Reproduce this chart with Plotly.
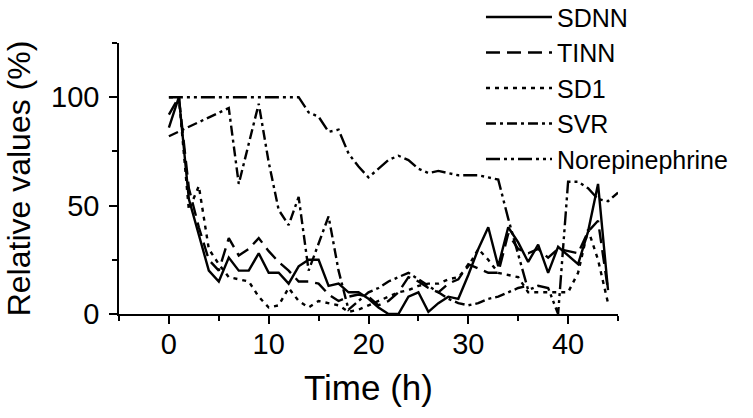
import plotly.graph_objects as go

hours = list(range(0, 46))

sdnn = [86, 100, 53, 36, 20, 15, 26, 20, 20, 28, 19, 19, 14, 22, 25, 25, 13, 14, 10, 10,
        7, 3, 0, 0, 8, 10, 1, 5, 8, 7, 18, 30, 40, 22, 40, 33, 24, 32, 19, 31,
        27, 23, 38, 60, 11, None]
tinn = [92, 100, 58, 40, 25, 20, 35, 27, 30, 35, 29, 24, 20, 15, 15, 14, 9, 6, 8, 9,
        8, 4, 6, 10, 17, 15, 12, 10, 14, 16, 23, 21, 19, 19, 37, 30, 28, 30, 26, 30,
        29, 28, 38, 43, 11, None]
sd1 = [100, 100, 48, 59, 30, 23, 17, 16, 15, 8, 3, 4, 12, 6, 3, 6, 5, 4, 1, 2,
       4, 6, 8, 10, 11, 13, 14, 14, 16, 17, 22, 30, 25, 19, 18, 17, 10, 10, 10, 10,
       10, 19, 39, 25, 5, None]
svr = [82, None, None, None, None, None, 95, 60, None, 97, 70, 48, 41, 54, 20, 33, 45, 20, 2, 6,
       10, 12, 15, 17, 19, 16, 13, 10, 7, 5, 4, 5, 7, 8, 10, 12, 13, None, None, None,
       None, None, None, None, None, None]
norepinephrine = [100, 100, 100, 100, 100, 100, 100, 100, 100, 100, 100, 100, 100, 100, 93, 91, 84, 85, 74, 68,
                  63, 67, 71, 73, 71, 67, 65, 66, 65, 64, 64, 64, 63, 62, 44, 27, 11, 13, 12, 0,
                  61, 61, 58, 53, 52, 56]

series = [
    ("SDNN", sdnn, "solid"),
    ("TINN", tinn, "14px,7px"),
    ("SD1", sd1, "4px,5px"),
    ("SVR", svr, "10px,4px,3px,4px"),
    ("Norepinephrine", norepinephrine, "14px,4px,3px,4px,3px,4px"),
]

fig = go.Figure()
for name, vals, dash in series:
    fig.add_trace(go.Scatter(
        x=hours, y=vals, name=name, mode="lines", connectgaps=True,
        line=dict(color="black", width=2.4, dash=dash),
    ))

font_family = "Liberation Sans, Arial, sans-serif"

fig.update_layout(
    width=753, height=418,
    margin=dict(l=119, r=135, t=43, b=104, autoexpand=False),
    paper_bgcolor="white", plot_bgcolor="white",
    font=dict(family=font_family, color="black"),
    showlegend=True,
    legend=dict(
        x=0.7254, y=1.18, xanchor="left", yanchor="top",
        font=dict(size=25, family=font_family, color="black"),
        itemwidth=66, tracegroupgap=0, bgcolor="rgba(0,0,0,0)",
    ),
    xaxis=dict(
        range=[-5, 45], showgrid=False, zeroline=False, automargin=False,
        showline=True, linecolor="black", linewidth=1.5,
        ticks="outside", tickcolor="black", ticklen=8, tickwidth=1.5,
        tickmode="array", tickvals=[0, 10, 20, 30, 40],
        tickfont=dict(size=29), ticklabelstandoff=-5,
        minor=dict(tickvals=[-5, 5, 15, 25, 35, 45], ticks="outside", ticklen=5, tickwidth=1.5, tickcolor="black"),
        title=dict(text="Time (h)", font=dict(size=35), standoff=17),
    ),
    yaxis=dict(
        range=[0, 125], showgrid=False, zeroline=False, automargin=False,
        showline=True, linecolor="black", linewidth=1.5,
        ticks="outside", tickcolor="black", ticklen=8, tickwidth=1.5,
        tickmode="array", tickvals=[0, 50, 100],
        tickfont=dict(size=29), ticklabelstandoff=4,
        minor=dict(tickvals=[25, 75, 125], ticks="outside", ticklen=5, tickwidth=1.5, tickcolor="black"),
        title=dict(text="Relative values (%)", font=dict(size=32), standoff=11),
    ),
)

fig.write_html("out.html", config={"displayModeBar": False},
               post_script="document.body.style.margin='0';")
